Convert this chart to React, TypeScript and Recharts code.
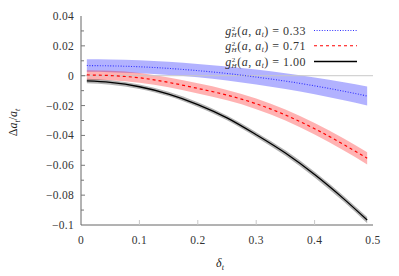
import React from 'react';
import { ComposedChart, Line, Area, XAxis, YAxis, ReferenceLine, Legend } from 'recharts';

const deltas = [0.01, 0.05, 0.1, 0.15, 0.2, 0.25, 0.3, 0.35, 0.4, 0.45, 0.49];

const blue = [0.0068, 0.0066, 0.006, 0.0049, 0.0034, 0.0015, -0.0009, -0.0036, -0.0068, -0.0104, -0.0136];
const blueLo = [0.0026, 0.0024, 0.0017, 0.0005, -0.0011, -0.0032, -0.0059, -0.0089, -0.0124, -0.0164, -0.0199];
const blueHi = [0.011, 0.0108, 0.0103, 0.0093, 0.0079, 0.0062, 0.0041, 0.0017, -0.0012, -0.0044, -0.0073];

const red = [0.0005, 0.0001, -0.0014, -0.0045, -0.0085, -0.013, -0.0188, -0.0263, -0.0355, -0.0461, -0.0553];
const redLo = [-0.0027, -0.0031, -0.0047, -0.0078, -0.0119, -0.0165, -0.0224, -0.03, -0.0393, -0.0501, -0.0594];
const redHi = [0.0037, 0.0033, 0.0019, -0.0012, -0.0051, -0.0095, -0.0152, -0.0226, -0.0317, -0.0421, -0.0512];

const black = [-0.0035, -0.0045, -0.0074, -0.0123, -0.0193, -0.0282, -0.0395, -0.0518, -0.0662, -0.0825, -0.0967];
const blackLo = [-0.005, -0.006, -0.0089, -0.0138, -0.0209, -0.0298, -0.0412, -0.0536, -0.0681, -0.0845, -0.0988];
const blackHi = [-0.002, -0.003, -0.0059, -0.0108, -0.0177, -0.0266, -0.0378, -0.05, -0.0643, -0.0805, -0.0946];

const xTicks = [0, 0.1, 0.2, 0.3, 0.4, 0.5];
const xTickLabels = ['0', '0.1', '0.2', '0.3', '0.4', '0.5'];
const yTicks = [-0.1, -0.09, -0.08, -0.07, -0.06, -0.05, -0.04, -0.03, -0.02, -0.01, 0, 0.01, 0.02, 0.03, 0.04];
const yTickLabels = ['\u22120.1', '', '\u22120.08', '', '\u22120.06', '', '\u22120.04', '', '\u22120.02', '', '0', '', '0.02', '', '0.04'];

const legendValues = ['0.33', '0.71', '1.00'];
const legendColors = ['#3030ff', '#ff0000', '#000000'];
const legendDash = ['1 1.6', '3 3', ''];

const data = deltas.map((d, i) => ({
  d,
  blue: blue[i],
  blueBand: [blueLo[i], blueHi[i]],
  red: red[i],
  redBand: [redLo[i], redHi[i]],
  black: black[i],
  blackBand: [blackLo[i], blackHi[i]],
}));

const FONT = "'Liberation Serif', 'DejaVu Serif', 'Times New Roman', serif";
const FS = 11.5;

const BottomTick = (props: any) => {
  const { x, y, index } = props;
  return (
    <g>
      {index > 0 && index < xTicks.length - 1 && (
        <line x1={x} x2={x} y1={y} y2={y - 5} stroke="#c8c8c8" strokeWidth={1} />
      )}
      <text x={x} y={y + 19} textAnchor="middle" style={{ fontFamily: FONT }} fontSize={FS} fill="#333" letterSpacing={0.3}>
        {xTickLabels[index]}
      </text>
    </g>
  );
};

const TopTick = (props: any) => {
  const { x, y, index } = props;
  if (index === 0 || index === xTicks.length - 1) return <g />;
  return <line x1={x} x2={x} y1={y} y2={y + 5} stroke="#c8c8c8" strokeWidth={1} />;
};

const LeftTick = (props: any) => {
  const { x, y, index } = props;
  const major = index % 2 === 0;
  const edge = index === 0 || index === yTicks.length - 1;
  return (
    <g>
      {!edge && <line x1={x} x2={x + (major ? 4 : 3)} y1={y} y2={y} stroke="#777" strokeWidth={1} />}
      <text x={x - 7} y={y + 4} textAnchor="end" style={{ fontFamily: FONT }} fontSize={FS} fill="#333" letterSpacing={0.3}>
        {yTickLabels[index]}
      </text>
    </g>
  );
};

const RightTick = (props: any) => {
  const { x, y, index } = props;
  const major = index % 2 === 0;
  const edge = index === 0 || index === yTicks.length - 1;
  if (edge) return <g />;
  return <line x1={x} x2={x - (major ? 4 : 3)} y1={y} y2={y} stroke="#777" strokeWidth={1} />;
};

const YLabel = (props: any) => {
  const vb = props.viewBox || { x: 0, y: 16, width: 81, height: 209 };
  const cx = vb.x + 17;
  const cy = vb.y + vb.height / 2 + 2;
  return (
    <text
      x={cx}
      y={cy}
      transform={`rotate(-90 ${cx} ${cy})`}
      textAnchor="middle"
      style={{ fontFamily: FONT }}
      fontSize={12}
      fill="#222"
    >
      <tspan>Δ</tspan>
      <tspan fontStyle="italic">a</tspan>
      <tspan fontStyle="italic" fontSize={8} dy={2.5}>t</tspan>
      <tspan dy={-2.5}>/</tspan>
      <tspan fontStyle="italic">a</tspan>
      <tspan fontStyle="italic" fontSize={8} dy={2.5}>t</tspan>
    </text>
  );
};

const XLabel = (props: any) => {
  const vb = props.viewBox || { x: 81, y: 225, width: 292, height: 51 };
  const cx = vb.x + vb.width / 2 - 7;
  const cy = vb.y + 42;
  return (
    <text x={cx} y={cy} textAnchor="middle" style={{ fontFamily: FONT }} fontSize={12} fill="#222">
      <tspan fontStyle="italic">δ</tspan>
      <tspan fontStyle="italic" fontSize={8} dy={2.5}>t</tspan>
    </text>
  );
};

const LegendContent = () => {
  const rowY = [10.5, 25.8, 41.5];
  return (
    <svg width={160} height={52} style={{ display: 'block' }}>
      {legendValues.map((v, i) => (
        <g key={v}>
          <text x={91} y={rowY[i] + 4} textAnchor="end" style={{ fontFamily: FONT }} fontSize={12} fill="#333" letterSpacing={0.5}>
            <tspan fontStyle="italic">g</tspan>
            <tspan fontSize={7} dy={-4}>2</tspan>
            <tspan fontSize={7} fontStyle="italic" dx={-4.2} dy={6.5}>H</tspan>
            <tspan dy={-2.5}>(</tspan>
            <tspan fontStyle="italic">a</tspan>
            <tspan>, </tspan>
            <tspan fontStyle="italic">a</tspan>
            <tspan fontStyle="italic" fontSize={7.5} dy={2.5}>t</tspan>
            <tspan dy={-2.5}>) = {v}</tspan>
          </text>
          <line
            x1={99}
            x2={142}
            y1={rowY[i]}
            y2={rowY[i]}
            stroke={legendColors[i]}
            strokeWidth={i === 2 ? 1.3 : 1.1}
            strokeDasharray={legendDash[i] || undefined}
          />
        </g>
      ))}
    </svg>
  );
};

export default function App() {
  return (
    <div style={{ position: 'absolute', left: 0, top: 0 }}>
      <ComposedChart
        width={399}
        height={276}
        data={data}
        margin={{ top: 16, right: 26, bottom: 0, left: 0 }}
        style={{ background: '#fff' }}
      >
        <XAxis
          xAxisId="b"
          dataKey="d"
          type="number"
          domain={[0, 0.5]}
          ticks={xTicks}
          interval={0}
          height={51}
          tickSize={0}
          tickMargin={0}
          tickLine={false}
          axisLine={{ stroke: '#666', strokeWidth: 1 }}
          tick={<BottomTick />}
          label={<XLabel />}
        />
        <XAxis
          xAxisId="t"
          dataKey="d"
          type="number"
          orientation="top"
          domain={[0, 0.5]}
          ticks={xTicks}
          interval={0}
          height={0}
          tickSize={0}
          tickMargin={0}
          tickLine={false}
          axisLine={{ stroke: '#666', strokeWidth: 1 }}
          tick={<TopTick />}
        />
        <YAxis
          yAxisId="l"
          type="number"
          domain={[-0.1, 0.04]}
          ticks={yTicks}
          interval={0}
          width={81}
          tickSize={0}
          tickMargin={0}
          tickLine={false}
          axisLine={{ stroke: '#666', strokeWidth: 1 }}
          tick={<LeftTick />}
          label={<YLabel />}
        />
        <YAxis
          yAxisId="r"
          orientation="right"
          type="number"
          domain={[-0.1, 0.04]}
          ticks={yTicks}
          interval={0}
          width={0}
          tickSize={0}
          tickMargin={0}
          tickLine={false}
          axisLine={{ stroke: '#666', strokeWidth: 1 }}
          tick={<RightTick />}
        />
        <ReferenceLine xAxisId="b" yAxisId="l" y={0} stroke="#c8c8c8" strokeWidth={1} />
        <Area xAxisId="b" yAxisId="l" type="monotone" dataKey="blueBand" stroke="none" fill="#0000ff" fillOpacity={0.3} isAnimationActive={false} activeDot={false} />
        <Area xAxisId="b" yAxisId="l" type="monotone" dataKey="redBand" stroke="none" fill="#ff0000" fillOpacity={0.3} isAnimationActive={false} activeDot={false} />
        <Area xAxisId="b" yAxisId="l" type="monotone" dataKey="blackBand" stroke="none" fill="#000000" fillOpacity={0.3} isAnimationActive={false} activeDot={false} />
        <Line xAxisId="b" yAxisId="l" type="monotone" dataKey="blue" stroke={legendColors[0]} strokeWidth={1.1} strokeDasharray={legendDash[0]} dot={false} activeDot={false} isAnimationActive={false} />
        <Line xAxisId="b" yAxisId="l" type="monotone" dataKey="red" stroke={legendColors[1]} strokeWidth={1.2} strokeDasharray={legendDash[1]} dot={false} activeDot={false} isAnimationActive={false} />
        <Line xAxisId="b" yAxisId="l" type="monotone" dataKey="black" stroke={legendColors[2]} strokeWidth={1.3} dot={false} activeDot={false} isAnimationActive={false} />
        <Legend
          layout="vertical"
          align="center"
          verticalAlign="middle"
          content={<LegendContent />}
          wrapperStyle={{ position: 'absolute', left: 215, top: 20, width: 160, height: 52 }}
        />
      </ComposedChart>
    </div>
  );
}
